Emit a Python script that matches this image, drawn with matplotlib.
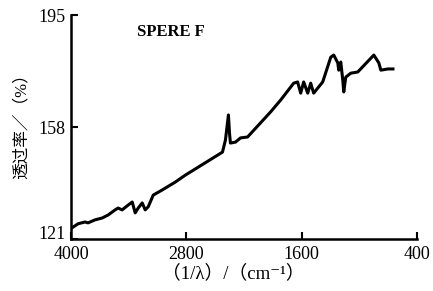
import matplotlib
matplotlib.use("Agg")
import matplotlib.pyplot as plt

plt.rcParams['font.family'] = ['Liberation Serif', 'Noto Sans CJK SC', 'DejaVu Sans']

# wavenumber (cm^-1) and transmittance
wavenumber = [3993, 3927, 3854, 3823, 3750, 3677, 3614, 3541, 3510, 3468,
              3405, 3363, 3332, 3301, 3259, 3228, 3197, 3144, 3050, 2915,
              2810, 2424, 2393, 2362, 2351, 2341, 2289, 2236, 2163, 1923,
              1819, 1683, 1642, 1610, 1579, 1537, 1506, 1475, 1381, 1297,
              1266, 1224, 1214, 1193, 1172, 1162, 1141, 1089, 1016, 849,
              797, 776, 703, 650]
transmittance = [124.6, 126.0, 126.6, 126.3, 127.3, 127.9, 128.9, 130.6, 131.2, 130.6,
                 132.2, 133.2, 129.6, 131.2, 132.9, 130.6, 131.6, 135.5, 137.2, 139.8,
                 142.1, 149.7, 153.7, 162.0, 156.0, 152.7, 153.0, 154.4, 154.7, 163.0,
                 166.9, 172.5, 172.9, 169.2, 172.9, 169.2, 172.5, 169.2, 172.9, 181.1,
                 181.8, 179.2, 176.8, 179.5, 173.5, 169.6, 174.5, 175.8, 176.2, 181.8,
                 179.2, 176.8, 177.2, 177.2]
xticks = [4000, 2800, 1600, 400]
yticks = [121, 158, 195]

fig = plt.figure(figsize=(4.33, 2.91), dpi=100)
ax = fig.add_axes([0.164, 0.179, 0.799, 0.769])
ax.plot(wavenumber, transmittance, color='black', lw=2.2)

ax.set_xlim(4000, 400)
ax.set_ylim(121, 195)
ax.set_xticks(xticks)
ax.set_yticks(yticks)
ax.tick_params(direction='in', length=5, width=1.5, labelsize=13)
ax.tick_params(axis='x', pad=5)
ax.tick_params(axis='y', pad=4)
ax.get_yticklabels()[0].set_va('baseline')
for s in ['top', 'right']:
    ax.spines[s].set_visible(False)
for s in ['left', 'bottom']:
    ax.spines[s].set_linewidth(1.8)

ax.set_xlabel('（1/λ）/（cm⁻¹）', fontsize=13.5)
ax.xaxis.set_label_coords(0.47, -0.115)
ax.set_ylabel('透过率／（%）', fontsize=12)
ax.yaxis.set_label_coords(-0.12, 0.52)
ax.text(3311, 189.4, 'SPERE F', fontsize=12, fontweight='bold', va='center', ha='left')

fig.savefig('out.png', dpi=100)
